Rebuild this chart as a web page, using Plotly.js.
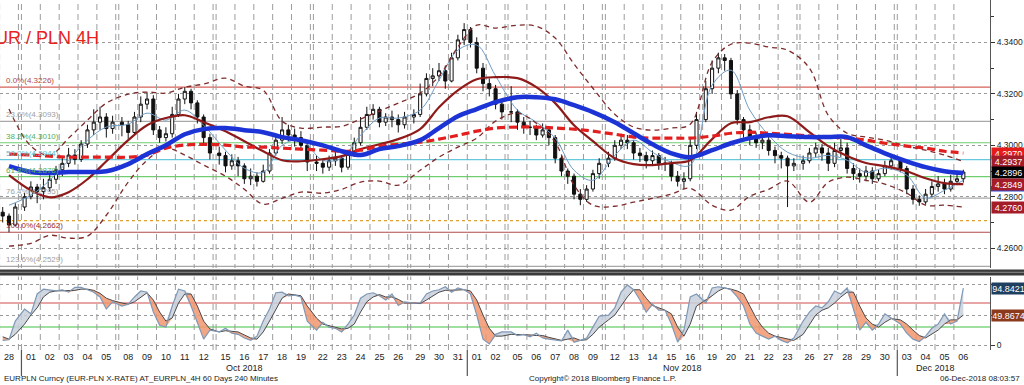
<!DOCTYPE html>
<html><head><meta charset="utf-8">
<script src="https://cdn.plot.ly/plotly-3.0.1.min.js"></script>
<style>html,body{margin:0;padding:0;background:#fff;}#chart{width:1024px;height:385px;}</style>
</head><body><div id="chart"></div>
<script>
// ---------------- DATA ----------------
const dayLabels = ["28","01","02","03","04","05","08","09","10","11","12","15","16","17","18","19",
  "22","23","24","25","26","29","30","31","01","02","05","06","07","08","09","12","13","14","15","16",
  "19","20","21","22","23","26","27","28","29","30","03","04","05","06"];
const weekStarts = [1,6,11,16,21,26,31,36,41,46];
const monthLabels = ["Oct 2018","Nov 2018","Dec 2018"];
const monthStarts = [1,24,46];
const barsPerDay = 3;
const firstOpen = 4.2740;
const close = [
 4.2725,4.2690,4.2760, 4.2800,4.2838,4.2820, 4.2835,4.2868,4.2905, 4.2930,4.2962,4.2945, 4.3005,4.3060,4.3090,
 4.3110,4.3065,4.3090, 4.3080,4.3050,4.3110, 4.3160,4.3180,4.3060, 4.3030,4.3045,4.3120, 4.3180,4.3210,4.3165,
 4.3110,4.3030,4.2970, 4.2960,4.2920,4.2940, 4.2920,4.2870,4.2880, 4.2860,4.2900,4.2970, 4.3020,4.3060,4.3040,
 4.3030,4.3000,4.2935, 4.2930,4.2915,4.2940, 4.2950,4.2915,4.2965, 4.3010,4.3070,4.3120, 4.3140,4.3090,4.3110,
 4.3100,4.3080,4.3110, 4.3120,4.3200,4.3260, 4.3270,4.3290,4.3250, 4.3340,4.3410,4.3450, 4.3400,4.3300,4.3240,
 4.3220,4.3160,4.3130, 4.3130,4.3090,4.3070, 4.3070,4.3040,4.3060, 4.3030,4.2950,4.2900, 4.2880,4.2810,4.2790,
 4.2830,4.2890,4.2930, 4.2950,4.3000,4.3020, 4.3010,4.2970,4.2960, 4.2940,4.2960,4.2930, 4.2930,4.2880,4.2860,
 4.2870,4.3000,4.3100, 4.3220,4.3300,4.3340, 4.3330,4.3200,4.3100, 4.3060,4.3030,4.3010, 4.3020,4.2980,4.2960,
 4.2950,4.2920,4.2930, 4.2940,4.2970,4.2990, 4.2970,4.2930,4.2980, 4.2990,4.2910,4.2890, 4.2880,4.2900,4.2870,
 4.2890,4.2920,4.2940, 4.2910,4.2830,4.2790, 4.2780,4.2810,4.2840, 4.2850,4.2830,4.2860, 4.2870,4.2896];
const high = [
 4.2760,4.2735,4.2775, 4.2815,4.2860,4.2850, 4.2870,4.2890,4.2920, 4.2955,4.2990,4.2985, 4.3020,4.3080,4.3140,
 4.3150,4.3125,4.3115, 4.3110,4.3095,4.3130, 4.3190,4.3205,4.3195, 4.3075,4.3070,4.3150, 4.3200,4.3226,4.3220,
 4.3175,4.3120,4.3045, 4.2995,4.2975,4.2965, 4.2955,4.2930,4.2910, 4.2895,4.2925,4.2985, 4.3045,4.3110,4.3080,
 4.3065,4.3055,4.3020, 4.2960,4.2945,4.2960, 4.2975,4.2960,4.2980, 4.3030,4.3110,4.3150, 4.3160,4.3150,4.3125,
 4.3135,4.3120,4.3130, 4.3140,4.3240,4.3280, 4.3300,4.3320,4.3310, 4.3360,4.3430,4.3475, 4.3460,4.3420,4.3320,
 4.3260,4.3235,4.3180, 4.3230,4.3140,4.3110, 4.3095,4.3080,4.3085, 4.3075,4.3040,4.2960, 4.2910,4.2890,4.2830,
 4.2845,4.2905,4.2950, 4.2975,4.3020,4.3045, 4.3040,4.3020,4.2990, 4.2975,4.2980,4.2970, 4.2955,4.2940,4.2900,
 4.2895,4.3030,4.3130, 4.3250,4.3330,4.3360, 4.3355,4.3340,4.3215, 4.3110,4.3080,4.3050, 4.3040,4.3035,4.2995,
 4.2975,4.2960,4.2950, 4.2960,4.2990,4.3010, 4.3005,4.2990,4.3010, 4.3025,4.3010,4.2930, 4.2910,4.2920,4.2915,
 4.2905,4.2940,4.2955, 4.2950,4.2920,4.2845, 4.2805,4.2830,4.2860, 4.2880,4.2870,4.2885, 4.2890,4.2905];
const low = [
 4.2700,4.2662,4.2685, 4.2745,4.2790,4.2775, 4.2790,4.2820,4.2850, 4.2880,4.2915,4.2925, 4.2935,4.2990,4.3040,
 4.3060,4.3030,4.3045, 4.3035,4.3025,4.3040, 4.3090,4.3140,4.3040, 4.3010,4.3015,4.3030, 4.3110,4.3160,4.3140,
 4.3085,4.3005,4.2945, 4.2925,4.2895,4.2905, 4.2880,4.2850,4.2845, 4.2840,4.2855,4.2890, 4.2960,4.3005,4.3015,
 4.2995,4.2980,4.2900, 4.2900,4.2890,4.2900, 4.2920,4.2895,4.2905, 4.2955,4.3000,4.3060, 4.3100,4.3070,4.3075,
 4.3070,4.3050,4.3065, 4.3085,4.3110,4.3190, 4.3230,4.3250,4.3220, 4.3245,4.3330,4.3390, 4.3380,4.3280,4.3210,
 4.3190,4.3140,4.3100, 4.3090,4.3060,4.3045, 4.3040,4.3020,4.3030, 4.3000,4.2930,4.2880, 4.2850,4.2790,4.2767,
 4.2780,4.2820,4.2870, 4.2915,4.2940,4.2985, 4.2985,4.2945,4.2935, 4.2910,4.2925,4.2905, 4.2900,4.2860,4.2840,
 4.2830,4.2860,4.2985, 4.3090,4.3200,4.3280, 4.3290,4.3180,4.3080, 4.3030,4.3000,4.2990, 4.2985,4.2960,4.2930,
 4.2910,4.2760,4.2900, 4.2905,4.2930,4.2955, 4.2940,4.2900,4.2915, 4.2955,4.2890,4.2865, 4.2855,4.2860,4.2850,
 4.2860,4.2880,4.2905, 4.2895,4.2810,4.2770, 4.2765,4.2770,4.2800, 4.2820,4.2810,4.2820, 4.2845,4.2855];
// moving averages / bands, one value per trading day
const maShort = [4.2767,4.2806,4.2864,4.2942,4.3020,4.3071,4.3082,4.3125,4.3098,4.3137,
 4.3078,4.2981,4.2911,4.2895,4.3000,4.3020,4.2942,4.2950,4.3039,4.3106,
 4.3106,4.3137,4.3253,4.3370,4.3390,4.3270,4.3137,4.3090,4.3028,4.2903,
 4.2864,4.2961,4.3020,4.2973,4.2934,4.2923,4.3234,4.3292,4.3137,4.3039,
 4.2973,4.2950,4.2961,4.2942,4.2895,4.2911,4.2884,4.2795,4.2825,4.2864];
const maMid = [4.2884,4.2825,4.2798,4.2818,4.2868,4.2938,4.3020,4.3078,4.3106,4.3117,
 4.3090,4.3055,4.3016,4.2977,4.2942,4.2938,4.2946,4.2958,4.2985,4.3004,
 4.3024,4.3063,4.3148,4.3214,4.3257,4.3265,4.3261,4.3226,4.3164,4.3078,
 4.3016,4.2950,4.2927,4.2923,4.2931,4.2942,4.3024,4.3086,4.3090,4.3109,
 4.3113,4.3051,4.2997,4.2958,4.2931,4.2919,4.2899,4.2872,4.2853,4.2849];
const maLong = [4.2919,4.2896,4.2892,4.2896,4.2896,4.2899,4.2927,4.2966,4.3000,4.3043,
 4.3063,4.3067,4.3059,4.3051,4.3032,4.3020,4.3000,4.2977,4.2962,4.2985,
 4.2997,4.3020,4.3067,4.3113,4.3141,4.3168,4.3187,4.3187,4.3179,4.3156,
 4.3129,4.3090,4.3047,4.3004,4.2969,4.2954,4.2981,4.3008,4.3028,4.3039,
 4.3035,4.3032,4.3032,4.3032,4.3000,4.2969,4.2938,4.2915,4.2899,4.2892];
const maXLong = [4.2966,4.2962,4.2958,4.2954,4.2954,4.2954,4.2954,4.2962,4.2989,4.3001,
 4.3004,4.3001,4.2993,4.2993,4.2989,4.2985,4.2981,4.2977,4.2981,4.2997,
 4.3004,4.3012,4.3024,4.3039,4.3055,4.3067,4.3071,4.3071,4.3067,4.3063,
 4.3055,4.3043,4.3032,4.3028,4.3028,4.3028,4.3036,4.3047,4.3051,4.3047,
 4.3043,4.3036,4.3032,4.3028,4.3020,4.3008,4.2997,4.2989,4.2977,4.2970];
const bandUpper = [4.3141,4.2997,4.2962,4.3028,4.3098,4.3164,4.3199,4.3207,4.3203,4.3226,
 4.3238,4.3261,4.3230,4.3214,4.3094,4.3067,4.3071,4.3074,4.3102,4.3133,
 4.3164,4.3203,4.3269,4.3382,4.3467,4.3456,4.3467,4.3463,4.3417,4.3316,
 4.3222,4.3121,4.3071,4.3059,4.3067,4.3082,4.3323,4.3393,4.3397,4.3382,
 4.3370,4.3300,4.3117,4.3047,4.3032,4.3020,4.2997,4.2981,4.2962,4.2937];
const bandLower = [4.2608,4.2619,4.2650,4.2639,4.2647,4.2728,4.2857,4.2942,4.2989,4.2962,
 4.2923,4.2880,4.2829,4.2771,4.2794,4.2818,4.2814,4.2829,4.2857,4.2861,
 4.2845,4.2903,4.2954,4.2993,4.3028,4.3094,4.3125,4.3086,4.3012,4.2845,
 4.2767,4.2763,4.2779,4.2794,4.2810,4.2833,4.2767,4.2748,4.2802,4.2829,
 4.2861,4.2779,4.2857,4.2876,4.2864,4.2849,4.2814,4.2767,4.2767,4.2760];
// oscillator, one value per bar
const oscFast = [8,9,40, 60,52,85, 93,92,90, 92,88,96, 96,92,88, 80,60,72, 65,68,80, 90,88,55, 33,30,65, 93,90,65,
 38,10,25, 22,28,20, 18,12,8, 15,40,60, 87,88,82, 83,80,40, 25,38,30, 28,22,35, 50,78,85, 87,82,75,
 85,66,72, 70,70,85, 90,92,97, 88,95,92, 85,50,10, 2,18,22, 22,16,18, 14,20,12, 10,8,7, 25,5,8,
 12,30,48, 50,62,88, 100,92,75, 55,68,58, 58,35,5, 25,80,85, 70,95,97, 95,92,80, 65,35,20, 15,10,15,
 8,4,12, 40,55,65, 62,72,90, 85,95,60, 25,38,25, 35,52,45, 35,20,10, 6,15,28, 35,52,35, 40,94.8421];
const oscSlow = [14,10,18, 35,50,62, 80,88,90, 90,90,91, 93,93,91, 86,78,74, 70,68,72, 80,87,75, 55,40,45, 70,85,85,
 65,40,27, 22,24,23, 22,17,12, 10,22,40, 60,78,85, 84,82,65, 45,35,32, 30,27,28, 35,55,72, 80,84,80,
 80,76,70, 70,69,75, 82,88,91, 91,91,92, 90,75,50, 28,15,15, 18,18,17, 17,16,16, 13,10,8, 10,12,8,
 9,18,30, 42,50,65, 80,92,92, 78,66,62, 58,52,30, 15,35,65, 75,82,90, 95,93,90, 85,65,45, 30,20,15,
 13,10,8, 18,35,50, 58,62,70, 80,88,88, 65,45,35, 30,38,44, 42,35,25, 16,12,18, 25,35,42, 42,49.8674];
const oscHigh = 70, oscLow = 30;
const fibPct = ["0.0%","23.6%","38.2%","50.0%","61.8%","76.4%","100.0%","123.6%"];
const fibVal = [4.3226,4.3093,4.3010,4.2944,4.2878,4.2795,4.2662,4.2529];
const extraLevel = 4.2707;
const titleText = "EUR / PLN 4H";
const footLeft = "EURPLN Curncy (EUR-PLN X-RATE) AT_EURPLN_4H 60 Days 240 Minutes";
const footMid = "Copyright\u00a9 2018 Bloomberg Finance L.P.";
const footRight = "06-Dec-2018 08:03:57";

// ---------------- LAYOUT HELPERS ----------------
const GAP = 0.16;
const W = 1024, H = 385, ML = 0, MR = 34, MT = 0, MB = 35;
const PW = W - ML - MR, PH = H - MT - MB;
const py = p => (PH - p) / PH;            // pixel y (from top) -> paper
const px = p => p / PW;                   // pixel x -> paper
const weekIdx = dayLabels.map((_, i) => weekStarts.filter(s => s <= i).length);
const dayX = dayLabels.map((_, i) => i + GAP * weekIdx[i]);
const barX = close.map((_, b) => dayX[Math.floor(b / barsPerDay)] - 0.5 + ((b % barsPerDay) + 0.5) / barsPerDay);
const open = close.map((_, b) => b === 0 ? firstOpen : close[b - 1]);
const oscMax = oscFast.map((v, i) => Math.max(v, oscSlow[i]));
const oscMin = oscFast.map((v, i) => Math.min(v, oscSlow[i]));

const FN = "Liberation Sans, Arial, sans-serif";
const data = [];
data.push({type:'candlestick', x:barX, open:open, high:high, low:low, close:close, xaxis:'x', yaxis:'y',
  increasing:{line:{color:'#111', width:1}, fillcolor:'#ffffff'},
  decreasing:{line:{color:'#111', width:1}, fillcolor:'#111111'},
  whiskerwidth:0, hoverinfo:'skip', showlegend:false});
const line = (y, color, width, dash) => ({type:'scatter', mode:'lines', x:dayX, y:y, xaxis:'x', yaxis:'y',
  line:{color:color, width:width, dash:dash || 'solid', shape:'spline', smoothing:1}, hoverinfo:'skip', showlegend:false});
data.push(line(maShort, '#6e9cc6', 1));
data.push(line(bandUpper, '#7d2b2b', 1.3, '5px,4px'));
data.push(line(bandLower, '#7d2b2b', 1.3, '5px,4px'));
data.push(line(maMid, '#8e1a1a', 2.2));
data.push(line(maXLong, '#e31e1e', 3.2, '8px,4px'));
data.push(line(maLong, '#1c33d6', 4.5));
// oscillator fills
const osc = (y, extra) => Object.assign({type:'scatter', mode:'lines', x:barX, y:y, xaxis:'x', yaxis:'y2', hoverinfo:'skip', showlegend:false}, extra);
data.push(osc(oscSlow, {line:{width:0}}));
data.push(osc(oscMax, {line:{width:0}, fill:'tonexty', fillcolor:'rgba(200,208,220,0.85)'}));
data.push(osc(oscSlow, {line:{width:0}}));
data.push(osc(oscMin, {line:{width:0}, fill:'tonexty', fillcolor:'rgba(242,150,110,0.85)'}));
data.push(osc(oscSlow, {line:{color:'#4a4a4a', width:1}}));
data.push(osc(oscFast, {line:{color:'#7f98b6', width:1.2}}));

// shapes
const shapes = [];
const fibColors = ['#d8605a','#a8a8a8','#6fcf6f','#66c8dc','#6fcf6f','#a8a8a8','#b04a4a','#a8a8a8'];
const fibText = ['#b04848','#a0a0a0','#55b055','#5bbad0','#55b055','#a0a0a0','#9a2e2e','#a0a0a0'];
fibVal.forEach((v, i) => shapes.push({type:'line', xref:'paper', x0:0, x1:1, yref:'y', y0:v, y1:v,
  line:{color:fibColors[i], width:1.2}, layer:'below'}));
shapes.push({type:'line', xref:'paper', x0:0, x1:1, yref:'y', y0:extraLevel, y1:extraLevel, line:{color:'#e0a030', width:1.2, dash:'dot'}, layer:'below'});
shapes.push({type:'line', xref:'paper', x0:0, x1:1, yref:'y2', y0:oscHigh, y1:oscHigh, line:{color:'#d24c4c', width:1.2}, layer:'below'});
shapes.push({type:'line', xref:'paper', x0:0, x1:1, yref:'y2', y0:oscLow, y1:oscLow, line:{color:'#7fd47f', width:1.5}, layer:'below'});
const vl = [];
dayX.forEach((x, i) => { vl.push(x - 0.5); if (weekStarts.includes(i + 1)) vl.push(x + 0.5); });
vl.forEach(x => shapes.push({type:'line', xref:'x', x0:x, x1:x, yref:'paper', y0:0, y1:1,
  line:{color:'#9c9c9c', width:1, dash:'6px,4px'}, layer:'below'}));
monthStarts.forEach(d => { const x = dayX[d] - 0.5;
  shapes.push({type:'line', xref:'x', x0:x, x1:x, yref:'paper', y0:py(350), y1:py(376), line:{color:'#555', width:1.2}}); });
// panel separator
shapes.push({type:'rect', xref:'paper', x0:0, x1:px(W), yref:'paper', y0:py(268), y1:py(276.5), fillcolor:'#ffffff', line:{width:0}});
shapes.push({type:'rect', xref:'paper', x0:0, x1:px(W), yref:'paper', y0:py(269.5), y1:py(275.5), fillcolor:'#3a3a3a', line:{width:0}});
shapes.push({type:'line', xref:'paper', x0:0, x1:px(W), yref:'paper', y0:py(272.3), y1:py(272.3), line:{color:'#8c8c8c', width:1}});
// blue value tag peeking out below the 4.2849 tag
shapes.push({type:'rect', xref:'paper', x0:px(991), x1:px(1024), yref:'paper', y0:py(191.5), y1:py(186), fillcolor:'#2a4bd0', line:{width:0}});

// annotations
const ann = [];
ann.push({text:titleText, xref:'paper', yref:'paper', x:px(-19), y:py(38), xanchor:'left', yanchor:'middle', showarrow:false,
  font:{family:'Liberation Sans, Arial, sans-serif', size:18, color:'#e8231d'}});
fibVal.forEach((v, i) => ann.push({text:fibPct[i] + '(' + v.toFixed(4) + ')', xref:'paper', yref:'y', x:px(4), y:v,
  xanchor:'left', yanchor:'bottom', showarrow:false, font:{family:FN, size:8, color:fibText[i]}}));
const tag = (v, yref, bg, txt) => ann.push({text:txt, xref:'paper', yref:yref, x:px(991), y:v, xanchor:'left', yanchor:'middle',
  showarrow:false, bgcolor:bg, borderpad:0.5, width:32, align:'center', font:{family:FN, size:9, color:'#ffffff'}});
const last = a => a[a.length - 1];
tag(last(maXLong), 'y', '#e51b1b', last(maXLong).toFixed(4));
tag(last(bandUpper), 'y', '#a31c28', last(bandUpper).toFixed(4));
tag(last(close), 'y', '#000000', last(close).toFixed(4));
tag(last(maMid), 'y', '#a31c28', last(maMid).toFixed(4));
tag(last(bandLower), 'y', '#a31c28', last(bandLower).toFixed(4));
tag(last(oscFast), 'y2', '#1f3f60', last(oscFast).toFixed(4));
tag(last(oscSlow), 'y2', '#8c3a1c', last(oscSlow).toFixed(4));
monthLabels.forEach((m, i) => { const a = dayX[monthStarts[i]] - 0.5;
  const b = i + 1 < monthStarts.length ? dayX[monthStarts[i + 1]] - 0.5 : last(dayX) + 0.5;
  ann.push({text:m, xref:'x', yref:'paper', x:(a + b) / 2, y:py(368), xanchor:'center', yanchor:'middle', showarrow:false,
    font:{family:FN, size:9, color:'#222'}}); });
ann.push({text:footLeft, xref:'paper', yref:'paper', x:px(2), y:py(379), xanchor:'left', yanchor:'middle', showarrow:false, font:{family:FN, size:8, color:'#222'}});
ann.push({text:footMid, xref:'paper', yref:'paper', x:px(527), y:py(379), xanchor:'left', yanchor:'middle', showarrow:false, font:{family:FN, size:8, color:'#222'}});
ann.push({text:footRight, xref:'paper', yref:'paper', x:px(1022), y:py(379), xanchor:'right', yanchor:'middle', showarrow:false, font:{family:FN, size:8, color:'#222'}});

const layout = {
  width:W, height:H, margin:{l:ML, r:MR, t:MT, b:MB}, paper_bgcolor:'#ffffff', plot_bgcolor:'#ffffff',
  showlegend:false, hovermode:false, dragmode:false,
  xaxis:{range:[-9/18.86, (PW - 9)/18.86], anchor:'y2', showgrid:false, zeroline:false, showline:false,
    tickmode:'array', tickvals:dayX, ticktext:dayLabels, ticks:'', tickfont:{family:FN, size:9, color:'#222'},
    rangeslider:{visible:false}, fixedrange:true},
  yaxis:{domain:[py(268), 1], range:[4.2523, 4.3565], side:'right', anchor:'x', showline:true, linecolor:'#555', linewidth:1,
    tickformat:'.4f', dtick:0.02, tick0:4.26, ticks:'outside', ticklen:4, tickcolor:'#333',
    minor:{dtick:0.01, ticks:'outside', ticklen:3, tickcolor:'#333', showgrid:false},
    showgrid:true, gridcolor:'#9a9a9a', griddash:'dot', gridwidth:1, zeroline:false,
    tickfont:{family:FN, size:8.5, color:'#222'}, fixedrange:true},
  yaxis2:{domain:[0, py(276.5)], range:[-8, 114], side:'right', anchor:'x', showline:true, linecolor:'#555', linewidth:1,
    tickmode:'array', tickvals:[0,50,100], ticktext:['0','',''], ticks:'outside', ticklen:4, tickcolor:'#333',
    showgrid:true, gridcolor:'#9a9a9a', griddash:'dot', zeroline:false,
    tickfont:{family:FN, size:8.5, color:'#222'}, fixedrange:true},
  shapes:shapes, annotations:ann
};
Plotly.newPlot('chart', data, layout, {staticPlot:true, displayModeBar:false});
</script></body></html>
